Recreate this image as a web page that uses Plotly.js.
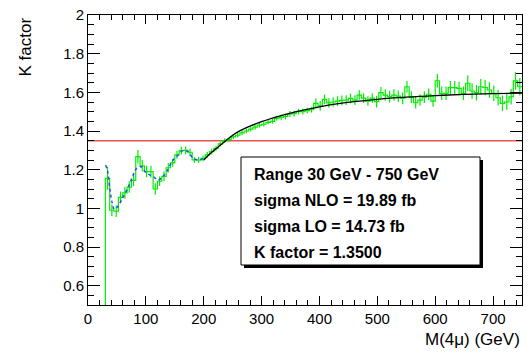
<!DOCTYPE html>
<html>
<head>
<meta charset="utf-8">
<script src="https://cdn.plot.ly/plotly-3.0.1.min.js"></script>
<style>html,body{margin:0;padding:0;background:#fff;}#chart{width:532px;height:353px;}</style>
</head>
<body>
<div id="chart"></div>
<script>
// Histogram: K factor per M(4mu) bin, 7.5 GeV bins from 30 to 750 GeV
const binStart = 30;
const binWidth = 7.5;
const kValues = [
  1.155, 0.990, 0.985, 1.057, 1.080, 1.110, 1.145, 1.267, 1.220, 1.190,
  1.190, 1.100, 1.140, 1.165, 1.210, 1.235, 1.276, 1.298, 1.300, 1.290,
  1.250, 1.250, 1.258, 1.276, 1.293, 1.310, 1.333, 1.350, 1.355, 1.370,
  1.378, 1.390, 1.400, 1.410, 1.420, 1.430, 1.435, 1.445, 1.450, 1.465,
  1.470, 1.475, 1.488, 1.490, 1.500, 1.500, 1.505, 1.510, 1.543, 1.530,
  1.564, 1.545, 1.550, 1.555, 1.558, 1.560, 1.569, 1.560, 1.586, 1.570,
  1.555, 1.570, 1.552, 1.598, 1.586, 1.578, 1.586, 1.580, 1.569, 1.629,
  1.575, 1.546, 1.560, 1.575, 1.590, 1.555, 1.660, 1.595, 1.595, 1.624,
  1.624, 1.620, 1.595, 1.647, 1.607, 1.598, 1.629, 1.625, 1.612, 1.595,
  1.572, 1.543, 1.550, 1.577, 1.659, 1.629
];
const kErrors = [
  0.060, 0.030, 0.030, 0.030, 0.030, 0.030, 0.030, 0.035, 0.030, 0.030,
  0.030, 0.030, 0.025, 0.025, 0.025, 0.020, 0.020, 0.020, 0.020, 0.020,
  0.015, 0.015, 0.015, 0.015, 0.015, 0.012, 0.012, 0.012, 0.012, 0.012,
  0.012, 0.012, 0.012, 0.012, 0.012, 0.012, 0.012, 0.012, 0.012, 0.012,
  0.015, 0.015, 0.015, 0.015, 0.015, 0.015, 0.015, 0.015, 0.025, 0.025,
  0.025, 0.025, 0.025, 0.025, 0.025, 0.025, 0.025, 0.025, 0.025, 0.025,
  0.025, 0.025, 0.030, 0.030, 0.030, 0.030, 0.030, 0.030, 0.030, 0.030,
  0.030, 0.030, 0.030, 0.030, 0.030, 0.030, 0.035, 0.035, 0.035, 0.035,
  0.035, 0.035, 0.035, 0.040, 0.040, 0.040, 0.040, 0.040, 0.040, 0.040,
  0.040, 0.040, 0.040, 0.040, 0.045, 0.045
];
// Blue dashed curve (low mass)
const blueX = [30.5, 34, 38, 42, 45.5, 51, 58, 70, 78, 84, 92.6, 98.5, 104, 113, 121.5, 128, 136, 147, 156, 164.7, 173, 182, 193.5, 202];
const blueY = [1.224, 1.19, 1.095, 1.026, 0.995, 1.008, 1.043, 1.112, 1.172, 1.207, 1.215, 1.19, 1.177, 1.163, 1.146, 1.16, 1.19, 1.25, 1.276, 1.30, 1.293, 1.259, 1.25, 1.267];
// Black fit curve (high mass)
const fitX = [200, 210, 220, 230, 240, 250, 260, 280, 300, 320, 340, 360, 380, 400, 430, 460, 500, 550, 600, 650, 700, 750];
const fitY = [1.25, 1.28, 1.305, 1.33, 1.355, 1.378, 1.397, 1.425, 1.448, 1.468, 1.485, 1.50, 1.513, 1.525, 1.54, 1.552, 1.564, 1.575, 1.583, 1.589, 1.593, 1.596];
const kFactorLine = 1.35;
const boxLines = ["Range 30 GeV - 750 GeV", "sigma NLO = 19.89 fb", "sigma LO = 14.73 fb", "K factor = 1.3500"];

const yMin = 0.5, yMax = 2.0, xMin = 0, xMax = 750;

const edges = [], centers = [];
for (let i = 0; i <= kValues.length; i++) edges.push(binStart + i * binWidth);
for (let i = 0; i < kValues.length; i++) centers.push(binStart + (i + 0.5) * binWidth);

const green = '#00ee00';
const stepX = edges.slice();
const stepY = [yMin].concat(kValues);

const traces = [
  {x: [xMin, xMax], y: [kFactorLine, kFactorLine], mode: 'lines', line: {color: '#f05050', width: 1.5}, hoverinfo: 'skip'},
  {x: stepX, y: stepY, mode: 'lines', line: {shape: 'vh', color: green, width: 1.2}, hoverinfo: 'skip'},
  {x: centers, y: kValues, mode: 'markers', marker: {size: 1, color: green, opacity: 0},
   error_y: {type: 'data', array: kErrors, visible: true, color: green, thickness: 1.2, width: 0}, hoverinfo: 'skip'},
  {x: blueX, y: blueY, mode: 'lines', line: {color: '#3344ff', width: 1.5, dash: '3px,3px', shape: 'spline'}, hoverinfo: 'skip'},
  {x: fitX, y: fitY, mode: 'lines', line: {color: '#000000', width: 1.3, shape: 'spline'}, hoverinfo: 'skip'}
];

const L = 88, R = 522, T = 15, B = 305;
const W = R - L, H = B - T;
const px = v => (v - L) / W;
const py = v => (B - v) / H;

const font = 'Liberation Sans, Arial, Helvetica, sans-serif';
const annotations = [
  {text: 'K factor', xref: 'paper', yref: 'paper', x: px(25), y: 1.0, xanchor: 'center', yanchor: 'top',
   textangle: -90, showarrow: false, font: {family: font, size: 17, color: '#000'}},
  {text: 'M(4\u03bc) (GeV)', xref: 'paper', yref: 'paper', x: 1.0, y: py(339), xanchor: 'right', yanchor: 'middle',
   showarrow: false, font: {family: font, size: 17, color: '#000'}}
];
const lineY = [174, 200, 226, 252];
boxLines.forEach((t, i) => annotations.push({
  text: '<b>' + t + '</b>', xref: 'paper', yref: 'paper', x: px(252), y: py(lineY[i]), xanchor: 'left', yanchor: 'middle',
  showarrow: false, font: {family: font, size: 16, color: '#000'}
}));

const shapes = [
  {type: 'rect', xref: 'paper', yref: 'paper', x0: px(244), x1: px(483), y0: py(160), y1: py(268),
   fillcolor: '#000', line: {width: 0}, layer: 'above'},
  {type: 'rect', xref: 'paper', yref: 'paper', x0: px(241), x1: px(480), y0: py(157), y1: py(265),
   fillcolor: '#fff', line: {color: '#000', width: 1}, layer: 'above'}
];

const layout = {
  width: 532, height: 353,
  margin: {l: L, r: 532 - R, t: T, b: 353 - B, pad: 0},
  paper_bgcolor: '#fff', plot_bgcolor: '#fff',
  showlegend: false,
  xaxis: {range: [xMin, xMax], dtick: 100, tick0: 0, ticks: 'inside', ticklen: 9, tickcolor: '#000',
    showline: true, linecolor: '#000', linewidth: 1, mirror: 'allticks', showgrid: false, zeroline: false,
    minor: {dtick: 20, ticks: 'inside', ticklen: 5, tickcolor: '#000', showgrid: false},
    tickfont: {family: font, size: 15, color: '#000'}},
  yaxis: {range: [yMin, yMax], dtick: 0.2, tick0: 0, ticks: 'inside', ticklen: 12, tickcolor: '#000',
    showline: true, linecolor: '#000', linewidth: 1, mirror: 'allticks', showgrid: false, zeroline: false,
    minor: {dtick: 0.05, ticks: 'inside', ticklen: 6, tickcolor: '#000', showgrid: false},
    tickfont: {family: font, size: 15, color: '#000'}},
  annotations: annotations,
  shapes: shapes
};

Plotly.newPlot('chart', traces, layout, {staticPlot: true, displayModeBar: false});
</script>
</body>
</html>
